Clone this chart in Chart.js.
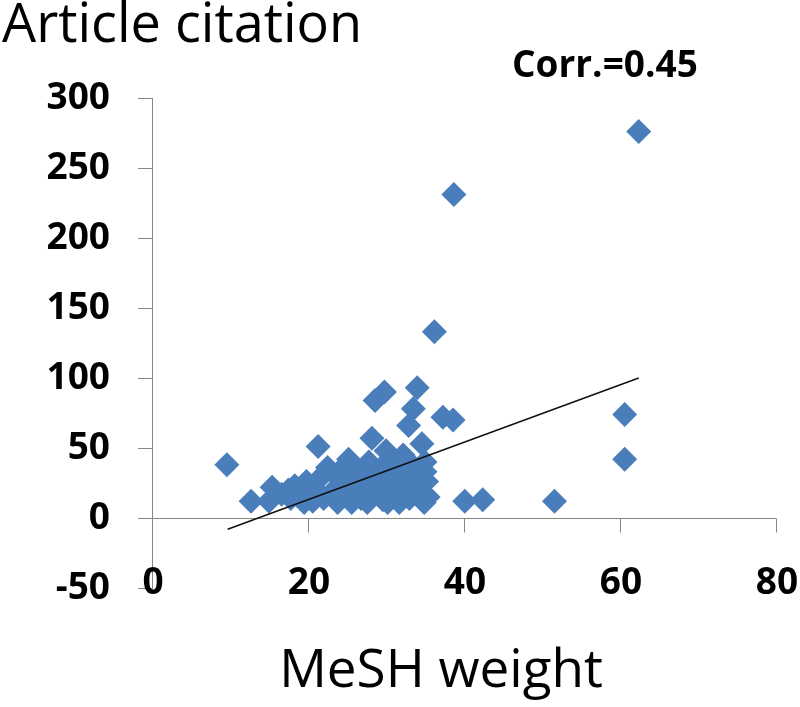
<!DOCTYPE html>
<html>
<head>
<meta charset="utf-8">
<script src="https://cdn.jsdelivr.net/npm/chart.js@4/dist/chart.umd.min.js"></script>
<style>
  html, body { margin: 0; padding: 0; background: #fff; }
  #wrap { width: 800px; height: 707px; position: relative; }
</style>
</head>
<body>
<div id="wrap"><canvas id="chart"></canvas></div>
<script>
// MeSH weight vs article citation
const meshWeight = [
  9.6, 12.7, 15.0, 15.4, 16.6, 17.5, 17.8, 18.3, 19.5, 19.8,
  20.0, 20.6, 21.0, 21.3, 21.8, 22.0, 22.5, 23.0, 23.8, 24.0,
  24.5, 24.6, 25.2, 25.6, 25.8, 26.0, 26.3, 26.8, 27.2, 27.6,
  27.8, 28.0, 28.2, 28.6, 28.7, 29.2, 29.6, 29.8, 30.0, 30.2,
  30.4, 30.8, 31.0, 31.2, 31.7, 31.9, 32.2, 32.6, 32.9, 33.0,
  33.3, 33.5, 33.5, 33.8, 34.0, 34.2, 34.6, 34.9, 35.0, 35.0,
  35.2, 35.4, 36.2, 37.3, 38.6, 38.7, 40.1, 42.4, 51.6, 60.6,
  60.6, 62.4
];
const citations = [
  38, 12, 12, 22, 17, 20, 14, 23, 11, 26,
  18, 12, 20, 51, 30, 14, 36, 18, 11, 28,
  36, 20, 42, 11, 34, 28, 22, 14, 30, 11,
  40, 25, 57, 84, 20, 35, 13, 90, 48, 11,
  26, 40, 28, 18, 11, 32, 45, 24, 66, 14,
  38, 78, 22, 28, 93, 19, 53, 11, 40, 33,
  26, 15, 133, 72, 70, 231, 12, 13, 12, 74,
  42, 276
];

// fitted trend line end points
const trendX = [9.7, 62.4];
const trendY = [-8, 100];

const xTicks = [0, 20, 40, 60, 80];
const yTicks = [-50, 0, 50, 100, 150, 200, 250, 300];

const titleText = 'Article citation';
const corrText = 'Corr.=0.45';
const xTitleText = 'MeSH weight';

const FONT = "'Open Sans', 'Noto Sans', sans-serif";
const AXIS_GRAY = '#868686';

// Excel style: x axis line crosses at y = 0, labels sit low, plus free text
const excelAxis = {
  id: 'excelAxis',
  beforeDatasetsDraw(chart) {
    const { ctx, scales: { x, y } } = chart;
    const y0 = Math.round(y.getPixelForValue(0)) + 0.5;
    ctx.save();
    ctx.strokeStyle = AXIS_GRAY;
    ctx.lineWidth = 1;
    ctx.beginPath();
    ctx.moveTo(x.getPixelForValue(0), y0);
    ctx.lineTo(x.getPixelForValue(80), y0);
    xTicks.forEach(v => {
      if (v === 0) return;
      const px = Math.round(x.getPixelForValue(v)) + 0.5;
      ctx.moveTo(px, y0);
      ctx.lineTo(px, y0 + 14);
    });
    ctx.stroke();
    ctx.restore();
  },
  afterDraw(chart) {
    const { ctx, scales: { x } } = chart;
    ctx.save();
    ctx.fillStyle = '#000';
    ctx.textBaseline = 'alphabetic';

    // x tick labels
    ctx.textAlign = 'center';
    ctx.font = 'bold 37px ' + FONT;
    xTicks.forEach(v => {
      ctx.fillText(String(v), x.getPixelForValue(v) + 1, 594);
    });

    ctx.textAlign = 'left';
    ctx.font = '54px ' + FONT;
    ctx.fillText(titleText, 2, 42);
    ctx.font = 'bold 37px ' + FONT;
    ctx.fillText(corrText, 512, 77);
    ctx.textAlign = 'center';
    ctx.font = '53px ' + FONT;
    ctx.fillText(xTitleText, 441, 687);
    ctx.restore();
  }
};

const points = meshWeight.map((w, i) => ({ x: w, y: citations[i] }));
const trend = trendX.map((w, i) => ({ x: w, y: trendY[i] }));

new Chart(document.getElementById('chart'), {
  type: 'scatter',
  data: {
    datasets: [
      {
        label: 'Trend',
        data: trend,
        showLine: true,
        borderColor: '#111',
        borderWidth: 1.5,
        pointRadius: 0,
        order: 0
      },
      {
        label: 'Articles',
        data: points,
        pointStyle: 'rectRot',
        pointRadius: 12.5,
        pointHoverRadius: 12.5,
        backgroundColor: '#4A7EBB',
        borderColor: '#4A7EBB',
        borderWidth: 0,
        order: 1
      }
    ]
  },
  options: {
    responsive: true,
    maintainAspectRatio: false,
    animation: false,
    layout: { padding: { top: 98, right: 24, bottom: 0, left: 0 } },
    plugins: {
      legend: { display: false },
      tooltip: { enabled: false },
      title: { display: false }
    },
    scales: {
      x: {
        type: 'linear',
        min: 0,
        max: 80,
        afterBuildTicks: s => { s.ticks = xTicks.map(v => ({ value: v })); },
        grid: { display: false },
        border: { display: false },
        ticks: { display: false },
        afterFit: s => { s.height = 119; }
      },
      y: {
        type: 'linear',
        min: -50,
        max: 300,
        afterBuildTicks: s => { s.ticks = yTicks.map(v => ({ value: v })); },
        grid: {
          drawOnChartArea: false,
          drawTicks: true,
          tickLength: 14,
          color: AXIS_GRAY
        },
        border: { display: true, color: AXIS_GRAY, width: 1 },
        ticks: {
          padding: 28,
          color: '#000',
          font: { family: FONT, size: 37, weight: 'bold' }
        },
        afterFit: s => { s.width = 152; }
      }
    }
  },
  plugins: [excelAxis]
});
</script>
</body>
</html>
